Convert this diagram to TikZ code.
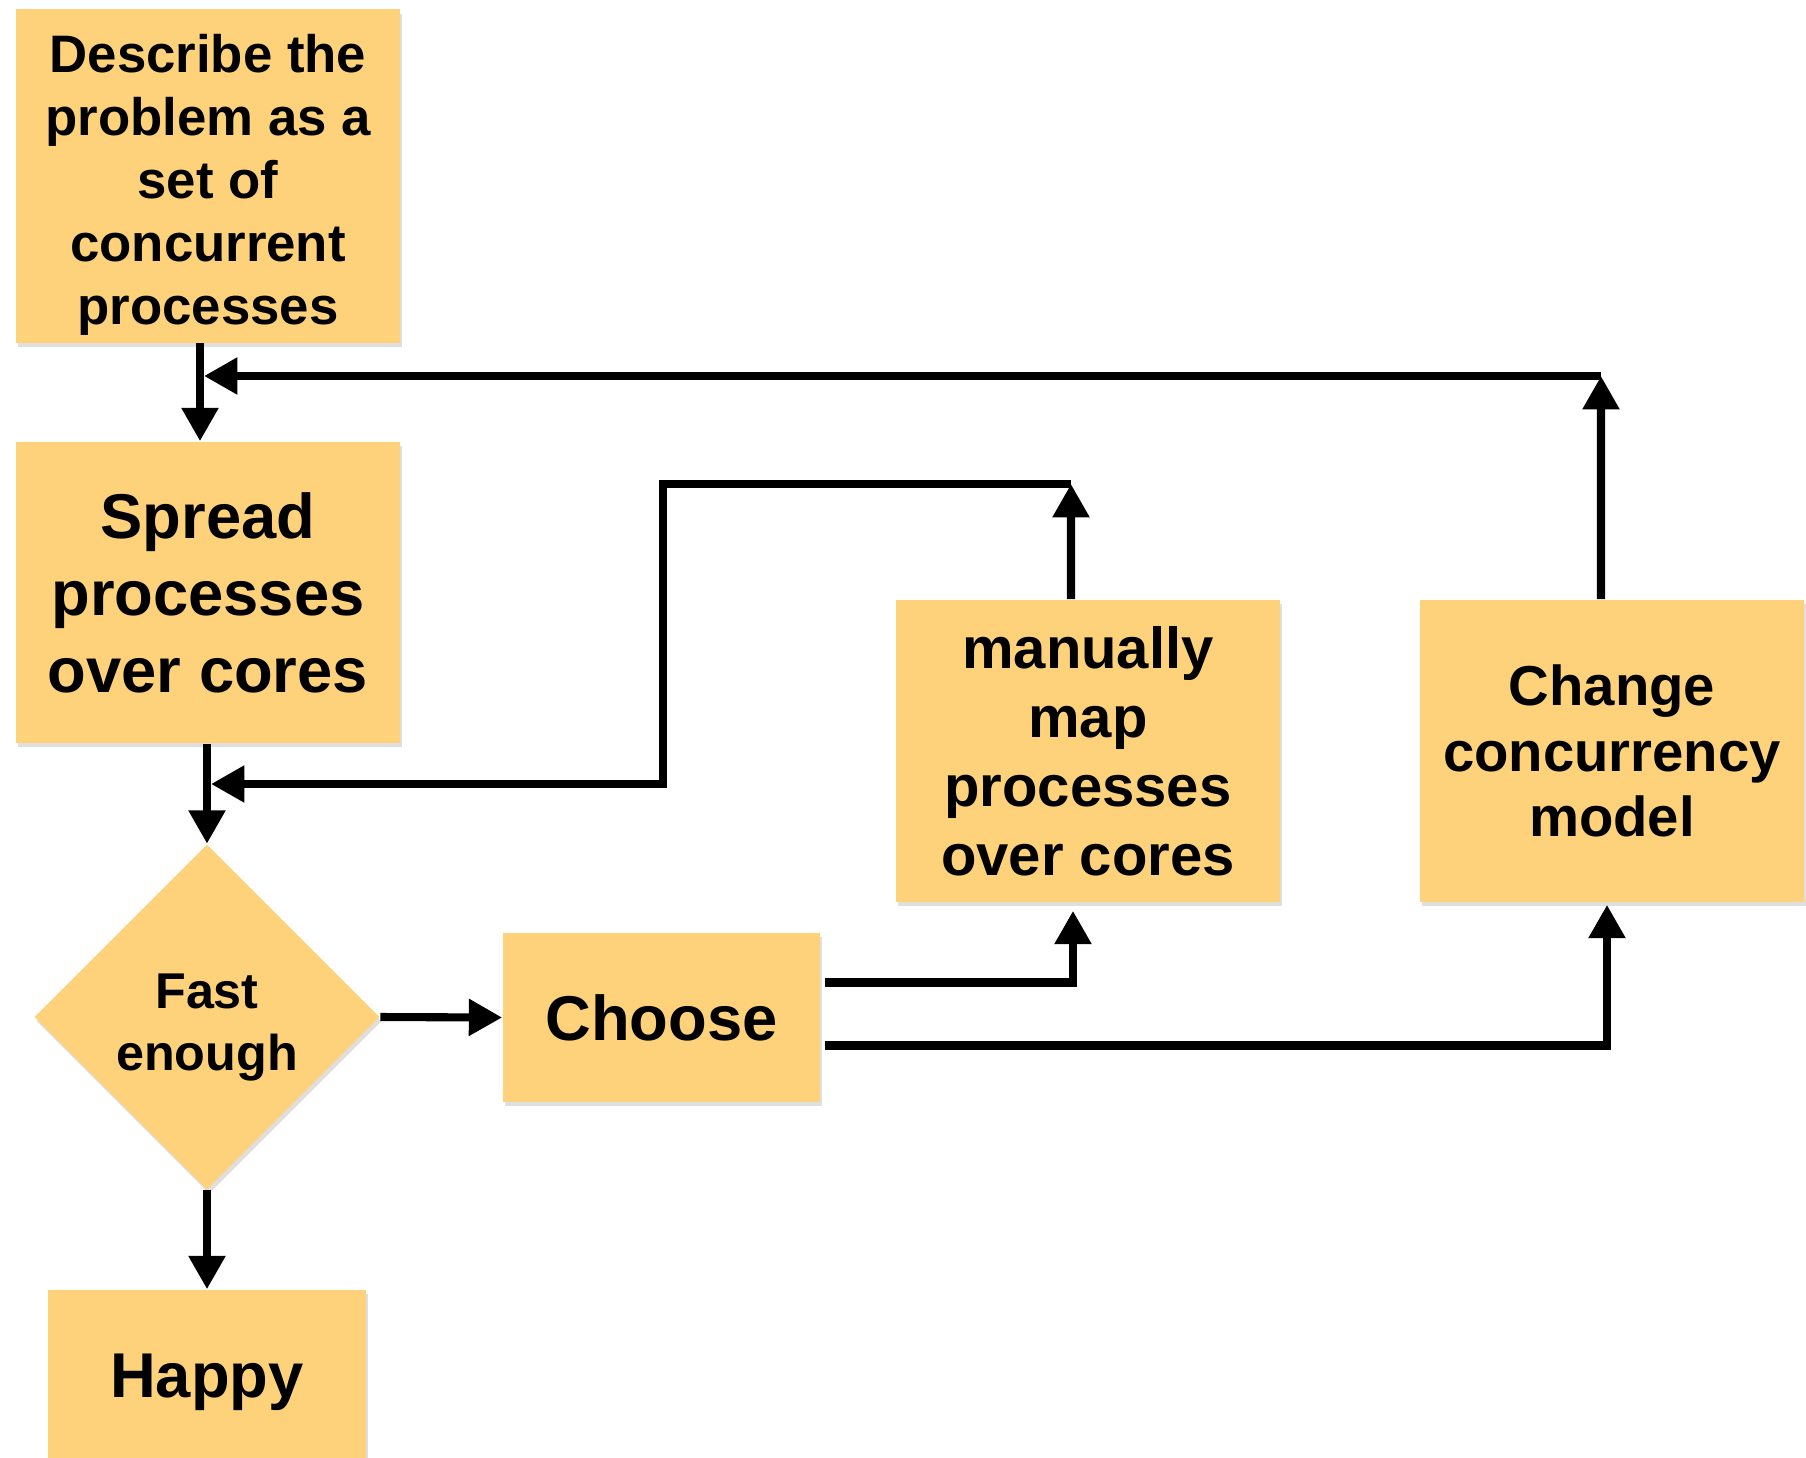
\documentclass[tikz,border=0pt]{standalone}
\usepackage{fontspec}
\setmainfont{Liberation Sans}
\usetikzlibrary{arrows.meta,shapes.geometric,shadows}
\definecolor{boxfill}{RGB}{253,210,122}
\begin{document}
\begin{tikzpicture}[x=0.01cm,y=-0.01cm,
  box/.style={fill=boxfill,draw=none,inner sep=0pt,align=center,
    drop shadow={shadow xshift=0.6pt,shadow yshift=-1.2pt,opacity=0.25}},
  dia/.style={diamond,aspect=1,fill=boxfill,draw=none,inner sep=0pt,align=center,
    drop shadow={shadow xshift=0.6pt,shadow yshift=-1.2pt,opacity=0.25}},
  arr/.style={line width=2.3pt,line join=miter,-{Triangle[length=9.5pt,width=10pt]}}]
\useasboundingbox (0,0) rectangle (1806,1457);
\fill[white] (0,0) rectangle (1806,1457);

\node[box,minimum width=3.84cm,minimum height=3.33cm,
  font={\bfseries\fontsize{15}{17.9}\selectfont}] (b1) at (208,176)
  {\rule{0pt}{16pt}Describe the\\problem as a\\set of\\concurrent\\processes};
\node[box,minimum width=3.84cm,minimum height=3.01cm,
  font={\bfseries\fontsize{18}{21.9}\selectfont}] (b2) at (208,592.5)
  {Spread\\processes\\over cores};
\node[dia,minimum width=3.45cm,minimum height=3.45cm,
  font={\bfseries\fontsize{14.3}{17.6}\selectfont}] (fe) at (207,1017)
  {\rule{0pt}{16pt}Fast\\enough};
\node[box,minimum width=3.17cm,minimum height=1.69cm,
  font={\bfseries\fontsize{18}{21.9}\selectfont}] (ch) at (661.5,1017.5)
  {Choose};
\node[box,minimum width=3.84cm,minimum height=3.02cm,
  font={\bfseries\fontsize{16.5}{19.6}\selectfont}] (mm) at (1088,751)
  {manually\\map\\processes\\over cores};
\node[box,minimum width=3.84cm,minimum height=3.02cm,
  font={\bfseries\fontsize{16}{18.7}\selectfont}] (cc) at (1612,751)
  {Change\\concurrency\\model};
\node[box,minimum width=3.18cm,minimum height=1.72cm,
  font={\bfseries\fontsize{18}{21.9}\selectfont}] (hp) at (207,1376)
  {\rule{0pt}{16pt}Happy};

% main flow
\draw[arr] ([xshift=-0.08cm]b1.south) -- ([xshift=-0.08cm]b2.north);
\draw[arr] ([xshift=-0.01cm]b2.south) -- (fe.north);
\draw[arr] (fe.east) -- (ch.west);
\draw[arr] (fe.south) -- (hp.north);

% choose -> options
\draw[arr] ([shift={(4,-35)}]ch.east) -| ([shift={(-15,8)}]mm.south);
\draw[arr] ([shift={(4,28)}]ch.east) -| ([shift={(-5,2)}]cc.south);

% feedback from change concurrency model
\coordinate (t1) at (1601,376);
\coordinate (t2) at (204,376);
\draw[arr] ([xshift=-0.11cm]cc.north) -- (t1);
\draw[arr] (t1) -- (t2);

% feedback from manual mapping
\coordinate (m1) at (1071,484);
\coordinate (m2) at (211,784);
\draw[arr] ([xshift=-0.17cm]mm.north) -- (m1);
\draw[arr] (m1) -- (663,484) -- (663,784) -- (m2);
\end{tikzpicture}
\end{document}
